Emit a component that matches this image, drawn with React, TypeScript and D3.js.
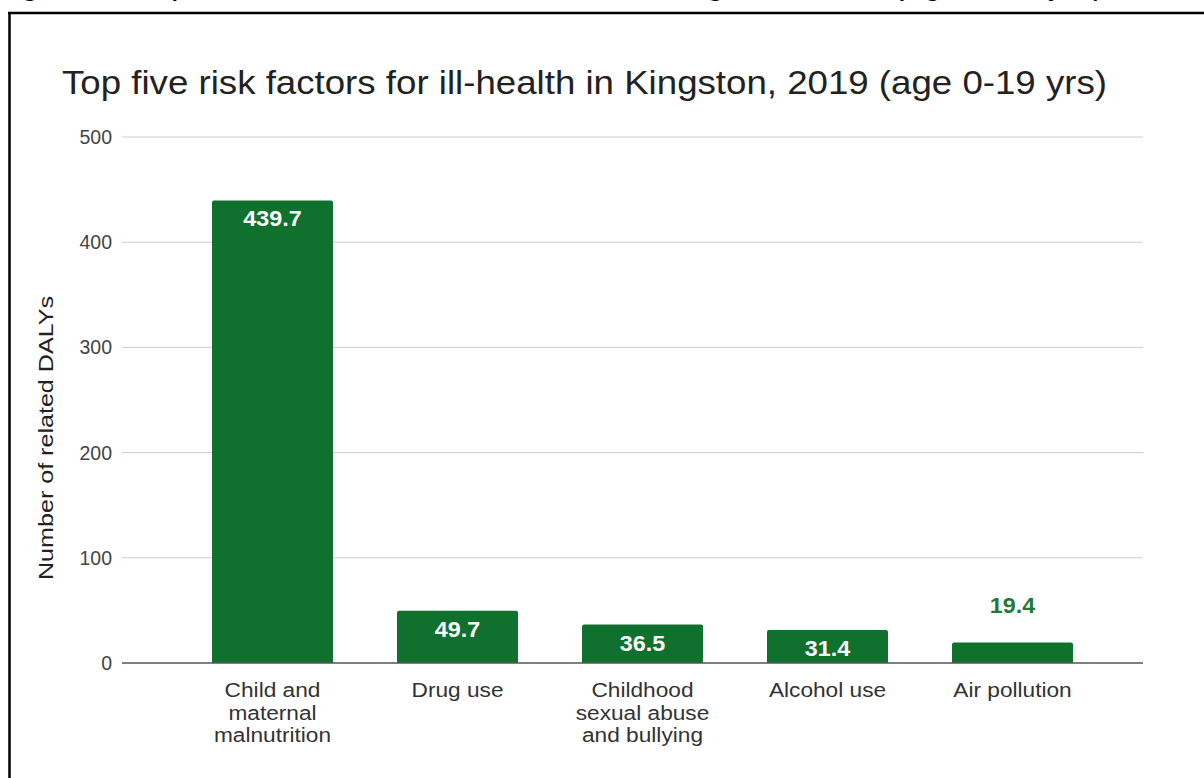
import React from "react";
import * as d3 from "d3";

const categories: string[][] = [
  ["Child and", "maternal", "malnutrition"],
  ["Drug use"],
  ["Childhood", "sexual abuse", "and bullying"],
  ["Alcohol use"],
  ["Air pollution"],
];
const values: number[] = [439.7, 49.7, 36.5, 31.4, 19.4];
const yTicks: number[] = [0, 100, 200, 300, 400, 500];
const title = "Top five risk factors for ill-health in Kingston, 2019 (age 0-19 yrs)";
const caption = "Figure 4: Top five risk factors for ill-health in Kingston, 2019 (age 0-19 yrs)";
const yAxisTitle = "Number of related DALYs";

const W = 1204;
const H = 778;
const FONT = "'Liberation Sans', Arial, sans-serif";
const GREEN = "#10702d";

export default function App() {
  const y = d3.scaleLinear().domain([0, 500]).range([663, 137]);
  const x = d3
    .scaleBand<number>()
    .domain(values.map((_, i) => i))
    .range([180, 1105])
    .paddingInner(0.346)
    .paddingOuter(0.173);
  const gridX0 = 122;
  const gridX1 = 1143;

  return (
    <div style={{ position: "absolute", left: 0, top: 0 }}>
      <svg width={W} height={H} style={{ display: "block", background: "#fff" }} fontFamily={FONT}>
        <rect x={0} y={0} width={W} height={H} fill="#fff" />
        {/* cropped caption above frame */}
        <text x={-8} y={-6} fontSize={34} fill="#000">{caption}</text>
        {/* frame */}
        <line x1={8} x2={W} y1={13} y2={13} stroke="#000" strokeWidth={2.5} />
        <line x1={9.5} x2={9.5} y1={12} y2={H} stroke="#000" strokeWidth={2.5} />

        {/* title */}
        <text
          x={62}
          y={94}
          fontSize={33}
          fill="#222"
          textLength={1045}
          lengthAdjust="spacingAndGlyphs"
        >
          {title}
        </text>

        {/* gridlines & ticks */}
        {yTicks.map((t) => (
          <g key={t}>
            {t !== 0 && (
              <line x1={gridX0} x2={gridX1} y1={y(t)} y2={y(t)} stroke="#cccccc" strokeWidth={1} />
            )}
            <text x={112} y={y(t)} dy="0.36em" textAnchor="end" fontSize={19.5} fill="#444">
              {t}
            </text>
          </g>
        ))}

        {/* y axis title */}
        <text
          transform={`translate(53, ${(y(0) + y(500)) / 2 + 38}) rotate(-90)`}
          textAnchor="middle"
          fontSize={21}
          fill="#222"
          textLength={284}
          lengthAdjust="spacingAndGlyphs"
        >
          {yAxisTitle}
        </text>

        {/* bars */}
        {values.map((v, i) => {
          const bx = x(i)!;
          const bw = x.bandwidth();
          const top = y(v);
          const h = y(0) - top;
          const r = 2;
          const path = `M${bx},${y(0)} L${bx},${top + r} Q${bx},${top} ${bx + r},${top} L${bx + bw - r},${top} Q${bx + bw},${top} ${bx + bw},${top + r} L${bx + bw},${y(0)} Z`;
          const inside = h > 25;
          const cx = bx + bw / 2;
          return (
            <g key={i}>
              <path d={path} fill={GREEN} />
              <text
                transform={`translate(${cx}, ${inside ? top + 26 : top - 30}) scale(1.06, 1)`}
                textAnchor="middle"
                fontSize={22}
                fontWeight="bold"
                fill={inside ? "#ffffff" : "#1f7a35"}
              >
                {v.toFixed(1)}
              </text>
              {categories[i].map((line, j) => (
                <text
                  key={j}
                  transform={`translate(${cx}, ${697 + j * 22.5}) scale(1.08, 1)`}
                  textAnchor="middle"
                  fontSize={21}
                  fill="#333"
                >
                  {line}
                </text>
              ))}
            </g>
          );
        })}

        {/* baseline */}
        <line x1={gridX0} x2={gridX1} y1={y(0)} y2={y(0)} stroke="#555" strokeWidth={1.6} />
      </svg>
    </div>
  );
}
